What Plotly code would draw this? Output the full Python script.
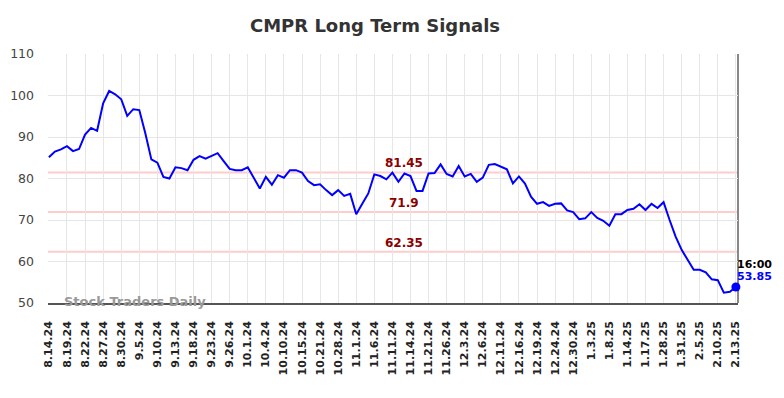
import plotly.graph_objects as go

title_text = "CMPR Long Term Signals"
tick_labels = ["8.14.24", "8.19.24", "8.22.24", "8.27.24", "8.30.24", "9.5.24", "9.10.24",
               "9.13.24", "9.18.24", "9.23.24", "9.26.24", "10.1.24", "10.4.24", "10.10.24",
               "10.15.24", "10.21.24", "10.28.24", "11.1.24", "11.6.24", "11.11.24", "11.14.24",
               "11.21.24", "11.26.24", "12.3.24", "12.6.24", "12.11.24", "12.16.24", "12.19.24",
               "12.24.24", "12.30.24", "1.3.25", "1.8.25", "1.14.25", "1.17.25", "1.28.25",
               "1.31.25", "2.5.25", "2.10.25", "2.13.25"]
label_step = 3

prices = [85.1, 86.5, 87.0, 87.8, 86.6, 87.1, 90.6, 92.2, 91.5, 98.1,
          101.1, 100.3, 99.1, 95.1, 96.7, 96.5, 90.9, 84.6, 83.8, 80.4,
          80.0, 82.7, 82.5, 82.0, 84.5, 85.4, 84.8, 85.4, 86.1, 84.2,
          82.3, 82.0, 82.0, 82.7, 80.0, 77.6, 80.4, 78.5, 80.8, 80.2,
          82.0, 82.0, 81.4, 79.4, 78.4, 78.6, 77.2, 76.0, 77.2, 75.8,
          76.3, 71.4, 73.9, 76.4, 81.0, 80.6, 79.8, 81.4, 79.2, 81.2,
          80.6, 77.0, 77.0, 81.2, 81.3, 83.4, 81.1, 80.5, 83.0, 80.5,
          81.1, 79.2, 80.2, 83.3, 83.5, 82.9, 82.2, 78.8, 80.5, 78.8,
          75.6, 73.9, 74.3, 73.4, 73.9, 74.0, 72.3, 71.9, 70.2, 70.4,
          71.9, 70.5, 69.8, 68.6, 71.4, 71.4, 72.4, 72.7, 73.8, 72.4,
          73.9, 72.9, 74.3, 70.0, 66.0, 62.8, 60.4, 58.0, 58.0, 57.4,
          55.7, 55.5, 52.5, 52.7, 53.85]

signal_levels = [81.45, 71.9, 62.35]
last_time = "16:00"
y_ticks = [50, 60, 70, 80, 90, 100, 110]

x_idx = list(range(len(prices)))
tick_vals = x_idx[::label_step]

fig = go.Figure()
fig.add_trace(go.Scatter(x=x_idx, y=prices, mode="lines",
                         line=dict(color="#0000ff", width=2), hoverinfo="skip",
                         showlegend=False))
fig.add_trace(go.Scatter(x=[x_idx[-1]], y=[prices[-1]], mode="markers",
                         marker=dict(color="#0000ff", size=9), showlegend=False,
                         cliponaxis=False))

for lvl in signal_levels:
    fig.add_shape(type="line", xref="paper", x0=0, x1=1, yref="y", y0=lvl, y1=lvl,
                  line=dict(color="#ffcccc", width=2), layer="below")
    fig.add_annotation(x=59, y=lvl, xref="x", yref="y", text=str(lvl), showarrow=False,
                       yanchor="bottom", yshift=0,
                       font=dict(family="DejaVu Sans", size=12, color="#8b0000", weight="bold"))

# right edge vertical line
fig.add_shape(type="line", xref="paper", x0=1, x1=1, yref="paper", y0=0, y1=1,
              line=dict(color="#888888", width=2), layer="below")

fig.add_annotation(x=x_idx[-1], y=prices[-1], text=last_time, showarrow=False,
                   xanchor="left", yanchor="middle", yshift=23, xshift=-1,
                   font=dict(family="DejaVu Sans", size=11, color="#000000", weight="bold"))
fig.add_annotation(x=x_idx[-1], y=prices[-1], text=f"{prices[-1]}", showarrow=False,
                   xanchor="left", yanchor="middle", yshift=11, xshift=-1,
                   font=dict(family="DejaVu Sans", size=11, color="#0000ff", weight="bold"))

fig.add_annotation(xref="paper", yref="paper", x=0.02, y=0, text="Stock Traders Daily",
                   showarrow=False, xanchor="left", yanchor="middle", yshift=2,
                   font=dict(family="DejaVu Sans", size=13, color="#999999", weight="bold"))

W, H = 768, 382
fig.update_layout(
    width=W, height=H,
    margin=dict(l=40, r=38, t=46, b=87, autoexpand=False),
    paper_bgcolor="white", plot_bgcolor="white",
    title=dict(text=title_text, x=367 / W, xref="container", xanchor="center",
               y=1 - 18 / H, yanchor="middle",
               font=dict(family="DejaVu Sans", size=18, color="#333333", weight="bold")),
    xaxis=dict(range=[-0.15, 114.35], tickvals=tick_vals, ticktext=tick_labels,
               tickangle=-90, showgrid=True, gridcolor="#e6e6e6", gridwidth=1,
               zeroline=False, showline=True, linecolor="#555555", linewidth=1.5,
               ticks="", ticklabelstandoff=12, automargin=False,
               tickfont=dict(family="DejaVu Sans", size=11, color="#222222", weight="bold")),
    yaxis=dict(range=[50, 110], tickvals=y_ticks, showgrid=True, gridcolor="#e6e6e6",
               gridwidth=1, zeroline=False, showline=False, ticks="", ticklabelstandoff=13,
               automargin=False,
               tickfont=dict(family="DejaVu Sans", size=12.5, color="#444444")),
)

fig.write_html("out.html")
